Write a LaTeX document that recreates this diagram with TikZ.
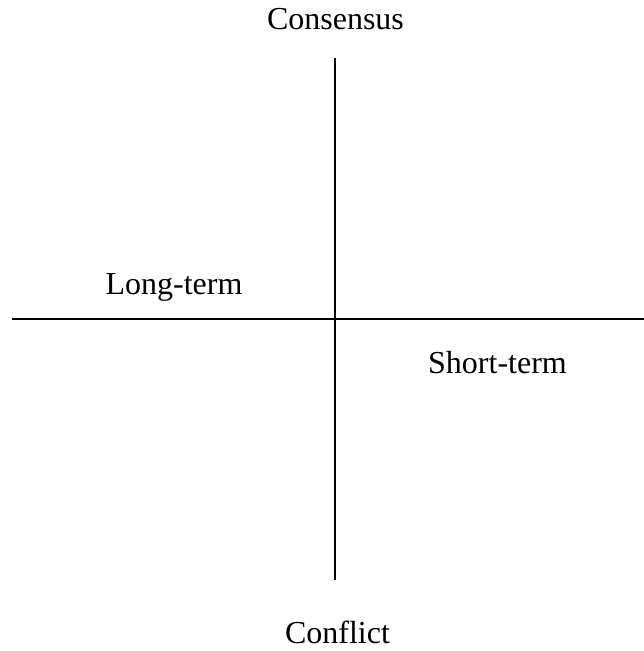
\documentclass[tikz,border=0pt]{standalone}
\usepackage{fontspec}
\setmainfont{Liberation Serif}
\begin{document}
\begin{tikzpicture}[x=1pt,y=1pt,
  lbl/.style={inner sep=0pt,anchor=base,font=\fontsize{32}{38}\selectfont},
  axis/.style={line width=2pt}]
\useasboundingbox (0,0) rectangle (644,651);
\node[lbl] (cons) at (335.5,621) {Consensus};
\node[lbl] (long) at (174,356) {Long-term};
\node[lbl] (short) at (497.5,277) {Short-term};
\node[lbl] (conf) at (337.5,8) {Conflict};
\coordinate (vt) at (335,593);
\coordinate (vb) at (335,71);
\coordinate (hl) at (12,331.5);
\coordinate (hr) at (644,331.5);
\draw[axis] (vt) -- (vb);
\draw[axis] (hl) -- (hr);
\end{tikzpicture}
\end{document}
